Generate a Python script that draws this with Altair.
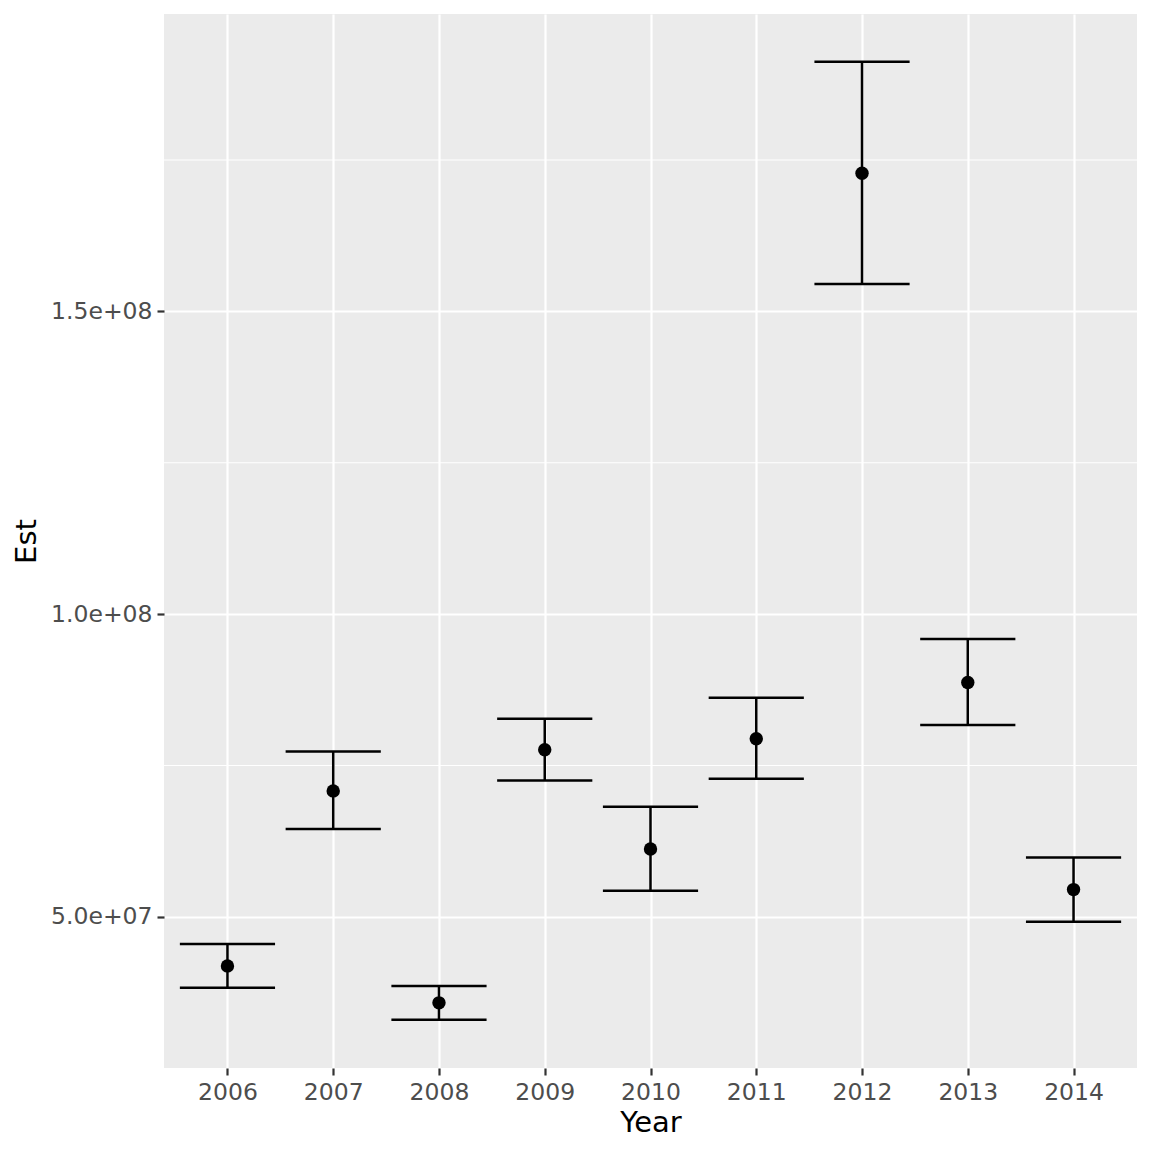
import altair as alt
import pandas as pd

years = [2006, 2007, 2008, 2009, 2010, 2011, 2012, 2013, 2014]
est = [4.19e7, 7.08e7, 3.58e7, 7.76e7, 6.12e7, 7.94e7, 1.728e8, 8.87e7, 5.45e7]
upper = [4.55e7, 7.73e7, 3.86e7, 8.27e7, 6.82e7, 8.62e7, 1.912e8, 9.59e7, 5.98e7]
lower = [3.83e7, 6.45e7, 3.30e7, 7.25e7, 5.43e7, 7.28e7, 1.545e8, 8.17e7, 4.92e7]
y_major = [5e7, 1e8, 1.5e8]
y_minor = [7.5e7, 1.25e8, 1.75e8]

df = pd.DataFrame({"Year": years, "Est": est, "upper": upper, "lower": lower})
minor_df = pd.DataFrame({"v": y_minor})

FONT = "DejaVu Sans"
xscale = alt.Scale(domain=[2005.4, 2014.6], nice=False, zero=False)
yscale = alt.Scale(domain=[2.504e7, 1.991e8], nice=False, zero=False)

axis_common = dict(
    grid=True,
    gridColor="white",
    gridWidth=2.2,
    domain=False,
    tickColor="#333333",
    tickSize=7,
    tickWidth=2.2,
    labelColor="#4D4D4D",
    labelFont=FONT,
    labelFontSize=23.5,
    titleFont=FONT,
    titleFontSize=29,
    titleFontWeight="normal",
    titleColor="black",
    labelPadding=5,
)

base = alt.Chart(df)

minor = alt.Chart(minor_df).mark_rule(color="white", strokeWidth=1.1).encode(
    y=alt.Y("v:Q", scale=yscale)
)

caps_top = base.transform_calculate(
    x1="datum.Year - 0.45", x2="datum.Year + 0.45"
).mark_rule(color="black", strokeWidth=2.5).encode(
    x=alt.X("x1:Q", scale=xscale), x2="x2:Q", y=alt.Y("upper:Q", scale=yscale)
)
caps_bot = base.transform_calculate(
    x1="datum.Year - 0.45", x2="datum.Year + 0.45"
).mark_rule(color="black", strokeWidth=2.5).encode(
    x=alt.X("x1:Q", scale=xscale), x2="x2:Q", y=alt.Y("lower:Q", scale=yscale)
)
stems = base.mark_rule(color="black", strokeWidth=2.5).encode(
    x=alt.X("Year:Q", scale=xscale), y=alt.Y("lower:Q", scale=yscale), y2="upper:Q"
)
points = base.mark_circle(color="black", size=180, opacity=1).encode(
    x=alt.X(
        "Year:Q",
        scale=xscale,
        title="Year",
        axis=alt.Axis(values=years, format="d", titlePadding=5, **axis_common),
    ),
    y=alt.Y(
        "Est:Q",
        scale=yscale,
        title="Est",
        axis=alt.Axis(
            values=y_major,
            labelExpr="replace(format(datum.value, '.1e'), 'e+', 'e+0')",
            titlePadding=9,
            **axis_common,
        ),
    ),
)

chart = alt.layer(minor, caps_top, caps_bot, stems, points).properties(
    width=973,
    height=1054,
    autosize=alt.AutoSizeParams(type="none"),
    padding={"left": 156, "top": 6, "right": 7, "bottom": 76},
).configure_view(
    fill="#EBEBEB", stroke=None
)

chart.save("out.html", embed_options={"renderer": "svg", "actions": False})
